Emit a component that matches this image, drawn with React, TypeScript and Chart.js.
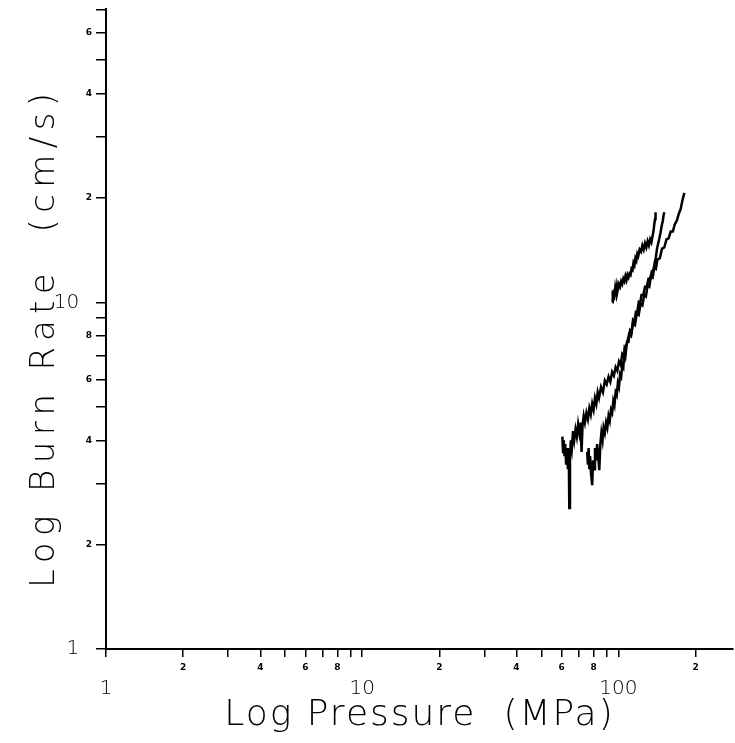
import React, { useEffect, useRef } from "react";
import { Chart, registerables } from "chart.js";

Chart.register(...registerables);

// ---- data ----
const PRESSURE_A = [94.6, 95.0, 95.5, 96.0, 96.5, 97.2, 98.0, 98.8, 99.5, 100.5, 101.5, 102.5, 103.5, 104.5, 105.5, 106.5, 107.5, 108.5, 109.5, 110.5, 111.5, 112.5, 113.5, 114.5, 115.5, 116.5, 117.5, 118.5, 119.5, 121, 122.5, 124, 125.5, 127, 128.5, 130, 131.5, 133, 134.5, 136, 137, 138, 139, 139.6];
const RATE_A = [10.0, 10.8, 10.2, 10.9, 10.4, 11.0, 10.6, 11.2, 10.9, 11.3, 11.1, 11.5, 11.3, 11.7, 11.5, 11.9, 11.6, 12.0, 11.8, 12.1, 12.0, 12.5, 12.4, 13.0, 12.8, 13.4, 13.2, 13.8, 13.6, 14.2, 14.0, 14.6, 14.2, 14.8, 14.4, 15.0, 14.6, 15.2, 14.9, 15.6, 16.0, 16.8, 17.4, 18.2];

const PRESSURE_B = [60.4, 60.8, 61.2, 61.6, 62.0, 62.5, 63.0, 63.5, 64.0, 64.3, 64.7, 65.2, 65.8, 66.5, 67.2, 68.0, 68.8, 69.6, 70.4, 71.2, 71.8, 72.4, 73.2, 74.0, 75.0, 76.0, 77.0, 78.0, 79.0, 80.0, 81.0, 82.0, 83.0, 84.0, 85.5, 87.0, 88.5, 90.0, 91.5, 93.0, 94.5, 96.0, 97.5, 99.0, 100.5, 102.0, 103.5, 105.0, 106.5, 108.0, 110, 112, 114, 116, 118, 120, 122, 124, 126, 128, 130, 132, 134, 136, 138, 140, 142, 145, 148, 151, 154, 157, 160, 163, 166, 169, 172, 175, 178, 181];
const RATE_B = [4.1, 3.7, 4.0, 3.6, 3.9, 3.4, 3.8, 3.3, 3.7, 2.55, 3.5, 4.0, 3.8, 4.25, 4.0, 4.3, 4.1, 4.45, 4.2, 4.5, 3.7, 4.4, 4.7, 4.5, 4.8, 4.6, 4.95, 4.75, 5.1, 4.9, 5.3, 5.1, 5.5, 5.3, 5.7, 5.5, 5.95, 5.8, 6.1, 5.9, 6.3, 6.15, 6.5, 6.35, 6.75, 6.6, 7.1, 7.0, 7.5, 7.6, 8.1, 8.0, 8.7, 8.6, 9.3, 9.2, 9.9, 9.8, 10.5, 10.4, 11.2, 11.1, 11.9, 11.8, 12.6, 12.5, 13.3, 13.4, 14.3, 14.4, 15.2, 15.3, 16.0, 16.0, 16.8, 17.2, 18.0, 18.6, 19.8, 20.7];

const PRESSURE_C = [75.5, 76.0, 76.5, 77.0, 77.5, 78.2, 79.0, 79.6, 80.3, 81.0, 81.8, 82.6, 83.4, 84.2, 85.0, 85.8, 86.7, 87.5, 88.5, 89.5, 90.5, 91.5, 92.5, 93.5, 94.5, 95.5, 96.5, 97.5, 98.5, 99.5, 100.5, 101.5, 102.5, 103.5, 104.5, 105.5, 106.5, 108, 109.5, 111, 112.5, 114, 115.5, 117, 118.5, 120, 121.5, 123, 125, 127, 129, 131, 133, 135, 137, 138.5, 140, 141.5, 143, 144.5, 146, 147.5, 149, 150, 151];
const RATE_C = [3.7, 3.4, 3.8, 3.3, 3.6, 3.2, 2.97, 3.5, 3.3, 3.8, 3.5, 3.9, 3.6, 3.28, 3.9, 4.2, 4.0, 4.35, 4.2, 4.5, 4.35, 4.7, 4.55, 4.9, 4.8, 5.2, 5.05, 5.5, 5.4, 5.85, 5.7, 6.2, 6.1, 6.6, 6.5, 7.2, 7.0, 7.7, 7.7, 8.3, 8.2, 8.9, 8.8, 9.4, 9.4, 10.0, 9.9, 10.5, 10.5, 11.1, 11.1, 11.7, 11.7, 12.3, 12.4, 13.0, 13.5, 14.3, 14.8, 15.3, 15.9, 16.6, 17.2, 17.8, 18.2];

// ---- axes ----
const X_MIN = 1;
const X_MAX = 280;
const Y_MIN = 1;
const Y_MAX = 70;
const X_TICKS = [1, 2, 3, 4, 5, 6, 7, 8, 9, 10, 20, 30, 40, 50, 60, 70, 80, 90, 100, 200];
const Y_TICKS = [1, 2, 3, 4, 5, 6, 7, 8, 9, 10, 20, 30, 40, 50, 60, 70];
const MAJOR_LABELED = [1, 10, 100];
const MINOR_LABELED = [2, 4, 6, 8, 20, 40, 60, 80, 200];

const X_TITLE = "Log Pressure  (MPa)";
const Y_TITLE = "Log Burn Rate  (cm/s)";

const FAMILY = "'DejaVu Sans', 'Liberation Sans', sans-serif";

function leading(v: number): string {
  const p = Math.pow(10, Math.floor(Math.log10(v) + 1e-9));
  return String(Math.round(v / p));
}
function isMajor(v: number) {
  return MAJOR_LABELED.some((m) => Math.abs(m - v) < 1e-6);
}
function isMinorLabeled(v: number) {
  return MINOR_LABELED.some((m) => Math.abs(m - v) < 1e-6);
}

const spacedTitles = {
  id: "spacedTitles",
  beforeDraw(chart: any) {
    const conf: any = { x: { spacing: 2, dy: 0 }, y: { spacing: 6.4, dy: 8 } };
    for (const id of ["x", "y"]) {
      const scale: any = chart.scales[id];
      if (!scale || scale._spacedPatched) continue;
      const orig = scale.drawTitle;
      scale.drawTitle = function () {
        const ctx = this.ctx;
        ctx.save();
        (ctx as any).letterSpacing = conf[id].spacing + "px";
        ctx.translate(0, conf[id].dy);
        orig.call(this);
        ctx.restore();
      };
      scale._spacedPatched = true;
    }
  },
};

function toPoints(xs: number[], ys: number[]) {
  return xs.map((x, i) => ({ x, y: ys[i] }));
}

export default function App() {
  const ref = useRef<HTMLCanvasElement | null>(null);

  useEffect(() => {
    if (!ref.current) return;
    const lineStyle = {
      borderColor: "#000",
      backgroundColor: "#000",
      borderWidth: 2.5,
      pointRadius: 0,
      showLine: true,
      tension: 0,
      fill: false,
    };
    const chart = new Chart(ref.current, {
      type: "scatter",
      data: {
        datasets: [
          { ...lineStyle, data: toPoints(PRESSURE_A, RATE_A) },
          { ...lineStyle, data: toPoints(PRESSURE_B, RATE_B) },
          { ...lineStyle, data: toPoints(PRESSURE_C, RATE_C) },
        ],
      },
      options: {
        animation: false,
        responsive: true,
        maintainAspectRatio: false,
        layout: { padding: { top: 8, right: 2, left: 0, bottom: 0 } },
        plugins: { legend: { display: false }, tooltip: { enabled: false } },
        scales: {
          x: {
            type: "logarithmic",
            min: X_MIN,
            max: X_MAX,
            afterBuildTicks: (s: any) => {
              s.ticks = X_TICKS.map((v) => ({ value: v }));
            },
            afterFit: (s: any) => {
              s.height = 94;
            },
            ticks: {
              autoSkip: false,
              maxRotation: 0,
              minRotation: 0,
              padding: 5,
              color: "#000",
              font: (ctx: any) =>
                ctx.tick && isMajor(ctx.tick.value)
                  ? { family: FAMILY, size: 20, weight: 200, lineHeight: 0.9 }
                  : { family: FAMILY, size: 9, weight: "bold", lineHeight: 1.2 },
              callback: (v: any) => {
                const n = Number(v);
                if (isMajor(n)) return ["", String(n)];
                if (isMinorLabeled(n)) return leading(n);
                return "";
              },
            },
            grid: { drawOnChartArea: false, drawTicks: true, tickLength: 8, color: "#000", lineWidth: 1.5 },
            border: { display: true, color: "#000", width: 2 },
            title: {
              display: true,
              text: X_TITLE,
              color: "#000",
              font: { family: FAMILY, size: 36, weight: 200, lineHeight: 1.2 },
              padding: { top: 0, bottom: 6 },
            },
          },
          y: {
            type: "logarithmic",
            min: Y_MIN,
            max: Y_MAX,
            afterBuildTicks: (s: any) => {
              s.ticks = Y_TICKS.map((v) => ({ value: v }));
            },
            afterFit: (s: any) => {
              s.width = 106;
            },
            ticks: {
              autoSkip: false,
              padding: 4,
              color: "#000",
              font: (ctx: any) =>
                ctx.tick && isMajor(ctx.tick.value)
                  ? { family: FAMILY, size: 20, weight: 200 }
                  : { family: FAMILY, size: 9, weight: "bold" },
              callback: (v: any) => {
                const n = Number(v);
                if (isMajor(n)) return String(n) + "  ";
                if (isMinorLabeled(n)) return leading(n);
                return "";
              },
            },
            grid: { drawOnChartArea: false, drawTicks: true, tickLength: 10, color: "#000", lineWidth: 1.5 },
            border: { display: true, color: "#000", width: 2 },
            title: {
              display: true,
              text: Y_TITLE,
              color: "#000",
              font: { family: FAMILY, size: 34, weight: 200, lineHeight: 1.2 },
              padding: { top: 25, bottom: 0 },
            },
          },
        },
      },
      plugins: [spacedTitles],
    } as any);
    return () => chart.destroy();
  }, []);

  return (
    <div style={{ position: "fixed", left: 0, top: 0, width: 735, height: 743, background: "#fff" }}>
      <canvas ref={ref} />
    </div>
  );
}
